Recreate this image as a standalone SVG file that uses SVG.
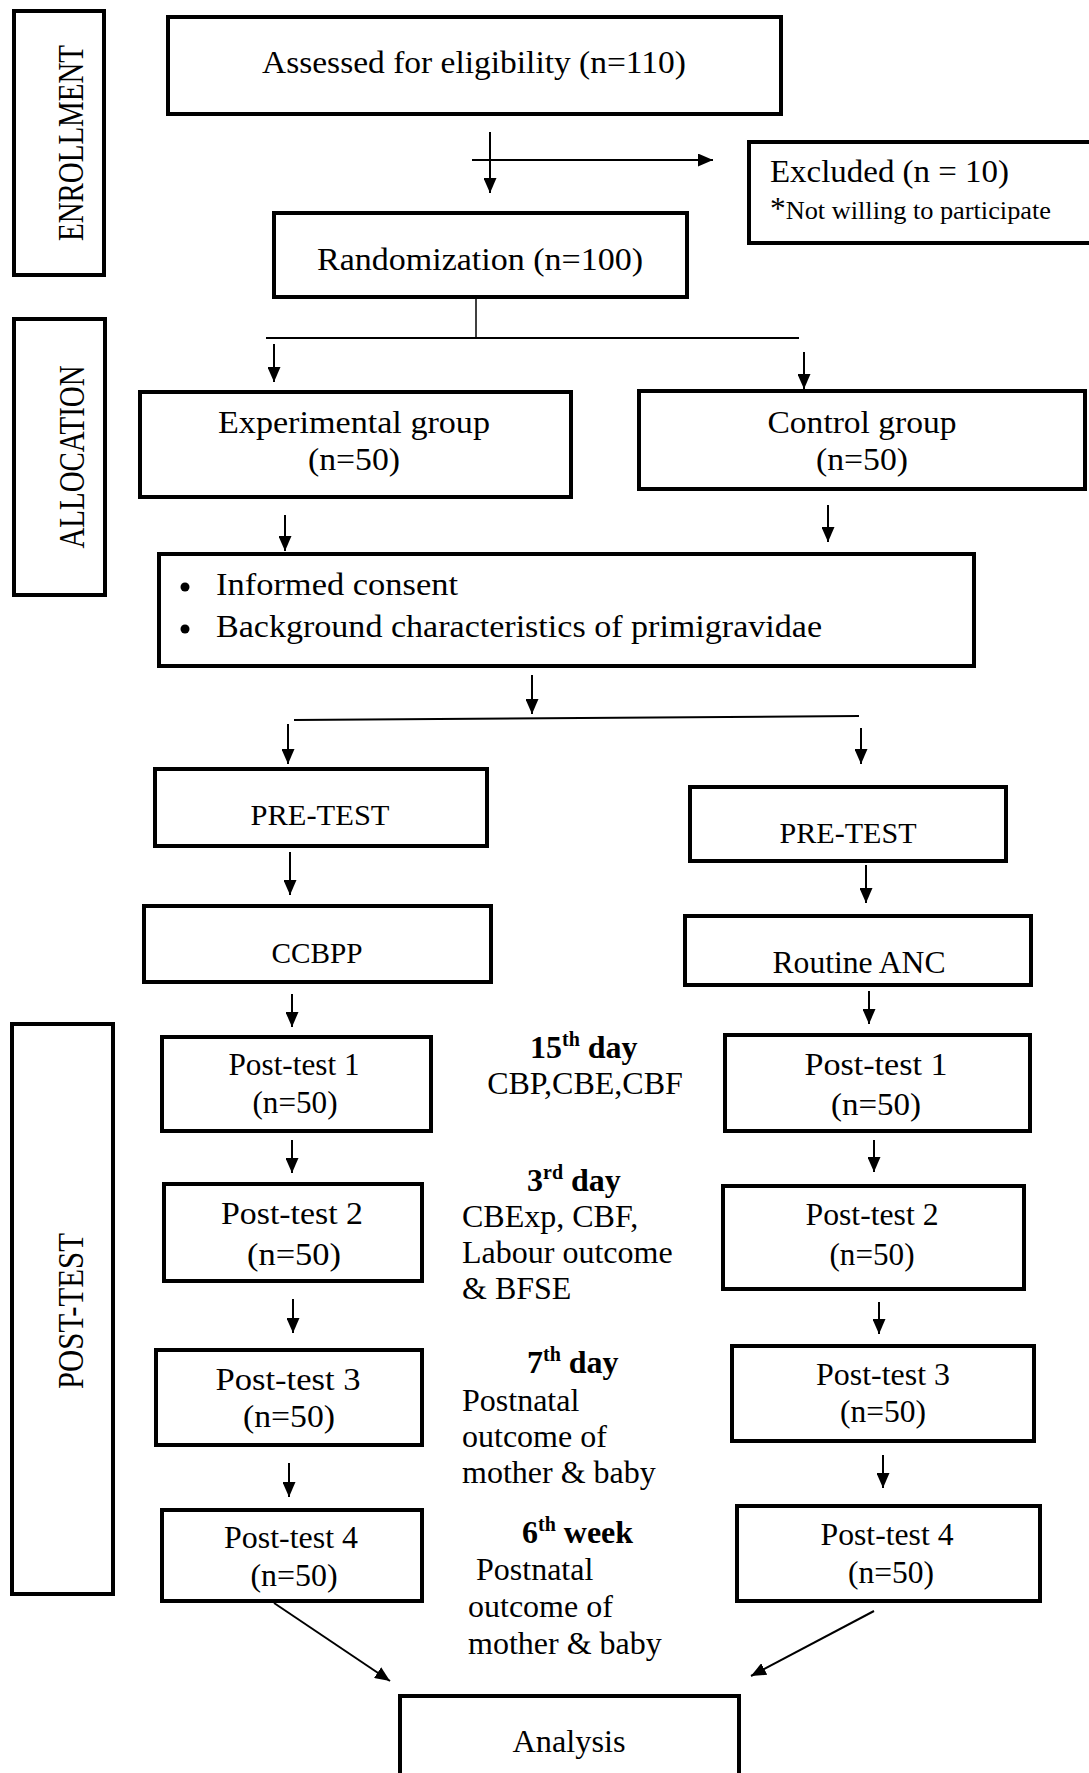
<svg xmlns="http://www.w3.org/2000/svg" width="1089" height="1773" viewBox="0 0 1089 1773">
<style>
.box{fill:#fff;stroke:#000;stroke-width:4}
.t{font-family:"Liberation Serif","Times New Roman",serif;font-size:32px;fill:#000}
.c{text-anchor:middle}
.b{font-weight:bold}
.side{font-family:"Liberation Serif","Times New Roman",serif;font-size:35px;fill:#000;text-anchor:middle}
.ln{stroke:#000;stroke-width:2;fill:none}
.ar{stroke:#000;stroke-width:2;fill:none;marker-end:url(#ah)}
</style>
<defs>
<marker id="ah" markerUnits="userSpaceOnUse" markerWidth="15" markerHeight="13" refX="15" refY="6.5" orient="auto">
<path d="M0,0 L15,6.5 L0,13 z" fill="#000"/>
</marker>
</defs>
<rect width="1089" height="1773" fill="#fff"/>

<g id="enrollment-label">
<rect class="box" x="14" y="11" width="90" height="264"/>
<text class="side" transform="translate(83,143) rotate(-90)" textLength="196" lengthAdjust="spacingAndGlyphs">ENROLLMENT</text>
</g>
<g id="allocation-label">
<rect class="box" x="14" y="319" width="91" height="276"/>
<text class="side" transform="translate(84,457) rotate(-90)" textLength="183" lengthAdjust="spacingAndGlyphs">ALLOCATION</text>
</g>
<g id="posttest-label">
<rect class="box" x="12" y="1024" width="101" height="570"/>
<text class="side" transform="translate(83,1311) rotate(-90)" textLength="156" lengthAdjust="spacingAndGlyphs">POST-TEST</text>
</g>

<g id="assessed">
<rect class="box" x="168" y="17" width="613" height="97"/>
<text class="t c" x="474" y="73" textLength="424" lengthAdjust="spacingAndGlyphs">Assessed for eligibility (n=110)</text>
</g>
<g id="excluded">
<rect class="box" x="749" y="142" width="350" height="101"/>
<text class="t" x="770" y="182" textLength="239" lengthAdjust="spacingAndGlyphs">Excluded (n = 10)</text>
<text class="t" x="770" y="219" style="font-size:26px" textLength="281" lengthAdjust="spacingAndGlyphs"><tspan style="font-size:31px">*</tspan>Not willing to participate</text>
</g>
<g id="randomization">
<rect class="box" x="274" y="213" width="413" height="84"/>
<text class="t c" x="480" y="270" textLength="326" lengthAdjust="spacingAndGlyphs">Randomization (n=100)</text>
</g>
<g id="experimental">
<rect class="box" x="140" y="392" width="431" height="105"/>
<text class="t c" x="354" y="433" textLength="272" lengthAdjust="spacingAndGlyphs">Experimental group</text>
<text class="t c" x="354" y="470" textLength="92" lengthAdjust="spacingAndGlyphs">(n=50)</text>
</g>
<g id="control">
<rect class="box" x="639" y="391" width="446" height="98"/>
<text class="t c" x="862" y="433" textLength="189" lengthAdjust="spacingAndGlyphs">Control group</text>
<text class="t c" x="862" y="470" textLength="92" lengthAdjust="spacingAndGlyphs">(n=50)</text>
</g>
<g id="consent">
<rect class="box" x="159" y="554" width="815" height="112"/>
<circle cx="185" cy="587" r="4.5" fill="#000"/>
<circle cx="185" cy="629" r="4.5" fill="#000"/>
<text class="t" x="216" y="595" textLength="242" lengthAdjust="spacingAndGlyphs">Informed consent</text>
<text class="t" x="216" y="637" textLength="606" lengthAdjust="spacingAndGlyphs">Background characteristics of primigravidae</text>
</g>
<g id="pretest-exp">
<rect class="box" x="155" y="769" width="332" height="77"/>
<text class="t c" x="320" y="825" style="font-size:30px" textLength="139" lengthAdjust="spacingAndGlyphs">PRE-TEST</text>
</g>
<g id="pretest-ctrl">
<rect class="box" x="690" y="787" width="316" height="74"/>
<text class="t c" x="848" y="843" style="font-size:30px" textLength="137" lengthAdjust="spacingAndGlyphs">PRE-TEST</text>
</g>
<g id="ccbpp">
<rect class="box" x="144" y="906" width="347" height="76"/>
<text class="t c" x="317" y="963" style="font-size:30px" textLength="91" lengthAdjust="spacingAndGlyphs">CCBPP</text>
</g>
<g id="routine-anc">
<rect class="box" x="685" y="916" width="346" height="69"/>
<text class="t c" x="859" y="973" textLength="173" lengthAdjust="spacingAndGlyphs">Routine ANC</text>
</g>

<g id="pt1-exp">
<rect class="box" x="162" y="1037" width="269" height="94"/>
<text class="t c" x="294" y="1075" textLength="131" lengthAdjust="spacingAndGlyphs">Post-test 1</text>
<text class="t c" x="295" y="1113" textLength="85" lengthAdjust="spacingAndGlyphs">(n=50)</text>
</g>
<g id="pt1-ctrl">
<rect class="box" x="725" y="1035" width="305" height="96"/>
<text class="t c" x="876" y="1075" textLength="143" lengthAdjust="spacingAndGlyphs">Post-test 1</text>
<text class="t c" x="876" y="1115" textLength="90" lengthAdjust="spacingAndGlyphs">(n=50)</text>
</g>
<g id="pt2-exp">
<rect class="box" x="164" y="1184" width="258" height="97"/>
<text class="t c" x="292" y="1224" textLength="142" lengthAdjust="spacingAndGlyphs">Post-test 2</text>
<text class="t c" x="294" y="1265" textLength="94" lengthAdjust="spacingAndGlyphs">(n=50)</text>
</g>
<g id="pt2-ctrl">
<rect class="box" x="723" y="1186" width="301" height="103"/>
<text class="t c" x="872" y="1225" textLength="133" lengthAdjust="spacingAndGlyphs">Post-test 2</text>
<text class="t c" x="872" y="1265" textLength="85" lengthAdjust="spacingAndGlyphs">(n=50)</text>
</g>
<g id="pt3-exp">
<rect class="box" x="156" y="1350" width="266" height="95"/>
<text class="t c" x="288" y="1390" textLength="145" lengthAdjust="spacingAndGlyphs">Post-test 3</text>
<text class="t c" x="289" y="1427" textLength="92" lengthAdjust="spacingAndGlyphs">(n=50)</text>
</g>
<g id="pt3-ctrl">
<rect class="box" x="732" y="1346" width="302" height="95"/>
<text class="t c" x="883" y="1385" textLength="134" lengthAdjust="spacingAndGlyphs">Post-test 3</text>
<text class="t c" x="883" y="1422" textLength="86" lengthAdjust="spacingAndGlyphs">(n=50)</text>
</g>
<g id="pt4-exp">
<rect class="box" x="162" y="1510" width="260" height="91"/>
<text class="t c" x="291" y="1548" textLength="134" lengthAdjust="spacingAndGlyphs">Post-test 4</text>
<text class="t c" x="294" y="1586" textLength="87" lengthAdjust="spacingAndGlyphs">(n=50)</text>
</g>
<g id="pt4-ctrl">
<rect class="box" x="737" y="1506" width="303" height="95"/>
<text class="t c" x="887" y="1545" textLength="133" lengthAdjust="spacingAndGlyphs">Post-test 4</text>
<text class="t c" x="891" y="1583" textLength="86" lengthAdjust="spacingAndGlyphs">(n=50)</text>
</g>
<g id="analysis">
<rect class="box" x="400" y="1696" width="339" height="100"/>
<text class="t c" x="569" y="1752" textLength="113" lengthAdjust="spacingAndGlyphs">Analysis</text>
</g>

<g id="annot-15th">
<text class="t b" x="530" y="1058">15<tspan style="font-size:20px" dy="-12">th</tspan><tspan dy="12"> day</tspan></text>
<text class="t c" x="585" y="1094">CBP,CBE,CBF</text>
</g>
<g id="annot-3rd">
<text class="t b" x="527" y="1191">3<tspan style="font-size:20px" dy="-12">rd</tspan><tspan dy="12"> day</tspan></text>
<text class="t" x="462" y="1227">CBExp, CBF,</text>
<text class="t" x="462" y="1263">Labour outcome</text>
<text class="t" x="462" y="1299">&amp; BFSE</text>
</g>
<g id="annot-7th">
<text class="t b" x="527" y="1373">7<tspan style="font-size:20px" dy="-12">th</tspan><tspan dy="12"> day</tspan></text>
<text class="t" x="462" y="1411">Postnatal</text>
<text class="t" x="462" y="1447">outcome of</text>
<text class="t" x="462" y="1483">mother &amp; baby</text>
</g>
<g id="annot-6th">
<text class="t b" x="522" y="1543">6<tspan style="font-size:20px" dy="-12">th</tspan><tspan dy="12"> week</tspan></text>
<text class="t" x="476" y="1580">Postnatal</text>
<text class="t" x="468" y="1617">outcome of</text>
<text class="t" x="468" y="1654">mother &amp; baby</text>
</g>

<g id="connectors">
<line class="ar" x1="490" y1="132" x2="490" y2="193"/>
<line class="ar" x1="472" y1="160" x2="713" y2="160"/>
<line class="ln" x1="476" y1="299" x2="476" y2="338" style="stroke-width:1.5"/>
<line class="ln" x1="266" y1="338" x2="799" y2="338"/>
<line class="ar" x1="274" y1="344" x2="274" y2="382"/>
<line class="ar" x1="804" y1="352" x2="804" y2="389"/>
<line class="ar" x1="285" y1="515" x2="285" y2="551"/>
<line class="ar" x1="828" y1="505" x2="828" y2="542"/>
<line class="ar" x1="532" y1="675" x2="532" y2="714"/>
<line class="ln" x1="294" y1="720" x2="859" y2="716"/>
<line class="ar" x1="288" y1="724" x2="288" y2="764"/>
<line class="ar" x1="861" y1="728" x2="861" y2="764"/>
<line class="ar" x1="290" y1="852" x2="290" y2="895"/>
<line class="ar" x1="866" y1="865" x2="866" y2="903"/>
<line class="ar" x1="292" y1="994" x2="292" y2="1027"/>
<line class="ar" x1="869" y1="991" x2="869" y2="1024"/>
<line class="ar" x1="292" y1="1140" x2="292" y2="1173"/>
<line class="ar" x1="874" y1="1140" x2="874" y2="1172"/>
<line class="ar" x1="293" y1="1299" x2="293" y2="1333"/>
<line class="ar" x1="879" y1="1302" x2="879" y2="1334"/>
<line class="ar" x1="289" y1="1463" x2="289" y2="1497"/>
<line class="ar" x1="883" y1="1455" x2="883" y2="1488"/>
<line class="ar" x1="274" y1="1603" x2="390" y2="1681"/>
<line class="ar" x1="874" y1="1611" x2="751" y2="1676"/>
</g>
</svg>
